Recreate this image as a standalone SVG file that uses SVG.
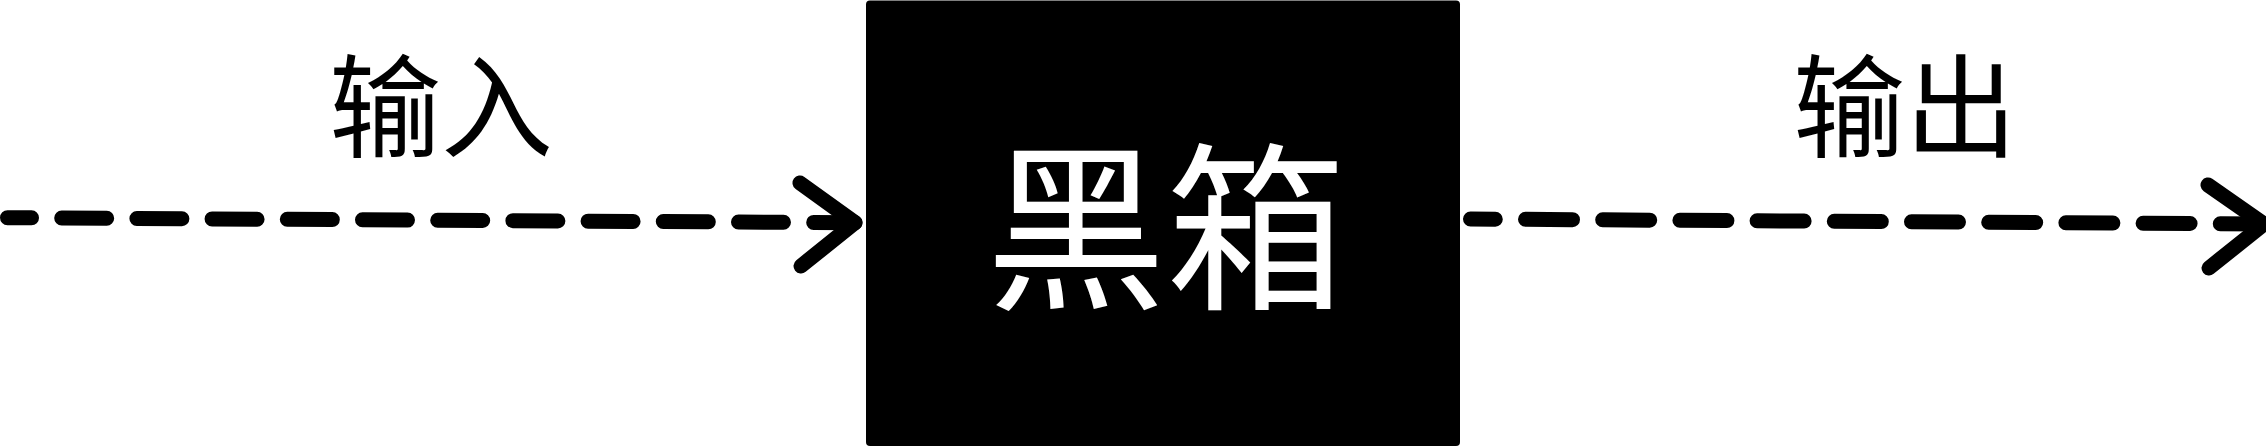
<svg xmlns="http://www.w3.org/2000/svg" width="2266" height="448" viewBox="0 0 2266 448">
  <style>
    .label { font-family: "Noto Sans CJK SC", "Noto Sans", sans-serif; font-size: 112px; fill: #000; text-anchor: middle; }
    .boxtext { font-family: "Noto Sans CJK SC", "Noto Sans", sans-serif; font-size: 180px; fill: #fff; text-anchor: middle; }
    .dash { fill: none; stroke: #000; stroke-width: 15; stroke-linecap: round; }
    .head { fill: none; stroke: #000; stroke-width: 15; stroke-linecap: round; stroke-linejoin: round; }
  </style>
  <rect width="2266" height="448" fill="#fff"/>
  <g id="connectors">
    <g id="edge-input">
      <path class="dash" d="M7.5,217.7 L855,222.7" stroke-dasharray="45 30.2" stroke-dashoffset="21"/>
      <polyline class="head" points="800,183 855,222.7 801,266"/>
      <text class="label" x="441" y="149">输入</text>
    </g>
    <g id="edge-output">
      <path class="dash" d="M1470.5,219 L2264,224" stroke-dasharray="47 30.2" stroke-dashoffset="22.2"/>
      <polyline class="head" points="2208,185 2264,224 2209,268"/>
      <text class="label" x="1905" y="149">输出</text>
    </g>
  </g>
  <g id="node-blackbox">
    <rect x="866" y="0.5" width="594" height="445.5" rx="4" ry="4" fill="#000"/>
    <text class="boxtext" x="1166" y="295">黑箱</text>
  </g>
</svg>
